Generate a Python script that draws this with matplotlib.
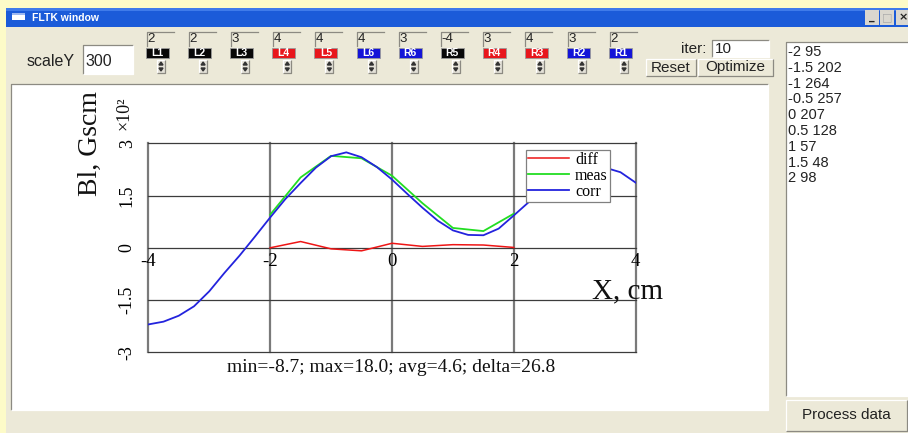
import matplotlib
matplotlib.use("Agg")
import matplotlib.pyplot as plt
from matplotlib.patches import Rectangle, Polygon

# ---------------- data ----------------
x_meas = [-2, -1.5, -1, -0.5, 0, 0.5, 1, 1.5, 2]
meas = [95, 202, 264, 257, 207, 128, 57, 48, 98]
diff = [0, 18, -3, -8.7, 13, 4, 9, 8, 1]
x_corr = [-4, -3.75, -3.5, -3.25, -3, -2.75, -2.5, -2.25, -2, -1.75, -1.5, -1.25,
          -1, -0.75, -0.5, -0.25, 0, 0.25, 0.5, 0.75, 1, 1.25, 1.5, 1.75, 2,
          2.25, 2.5, 2.75, 3, 3.25, 3.5, 3.75, 4]
corr = [-220, -212, -195, -168, -125, -72, -22, 32, 87, 140, 186, 230, 263, 274,
        260, 232, 196, 155, 115, 78, 50, 37, 36, 55, 93, 132, 170, 200, 220, 230,
        230, 217, 187]
y_scale = 100
x_ticks = [-4, -2, 0, 2, 4]
x_tick_labels = ["-4", "-2", "0", "2", "4"]
y_ticks = [-3, -1.5, 0, 1.5, 3]
y_tick_labels = ["-3", "-1.5", "0", "1.5", "3"]
series_names = ["diff", "meas", "corr"]
stats_text = "min=-8.7; max=18.0; avg=4.6; delta=26.8"
spin_names = ["L1", "L2", "L3", "L4", "L5", "L6", "R6", "R5", "R4", "R3", "R2", "R1"]
spin_values = [2, 2, 3, 4, 4, 4, 3, -4, 3, 4, 3, 2]
spin_kinds = ["k", "k", "k", "r", "r", "b", "b", "k", "r", "r", "b", "b"]
scale_y_value = "300"
iter_value = "10"

plt.rcParams["axes.unicode_minus"] = False
SERIF = "Liberation Serif"
SANS = "Liberation Sans"

fig = plt.figure(figsize=(9.08, 4.33), dpi=100)
bg = fig.add_axes([0, 0, 1, 1], zorder=0)
bg.set_xlim(0, 908)
bg.set_ylim(433, 0)
bg.axis("off")


def rect(x0, y0, x1, y1, fc, ec="none", lw=0, z=1):
    bg.add_patch(Rectangle((x0, y0), x1 - x0, y1 - y0, facecolor=fc,
                           edgecolor=ec, lw=lw, zorder=z))


def bevel(x0, y0, x1, y1, sunken, z=2):
    dark, light = "#8c8a82", "#ffffff"
    tl, br = (dark, light) if sunken else (light, dark)
    bg.plot([x0, x0, x1], [y1, y0, y0], color=tl, lw=0.9, zorder=z,
            solid_capstyle="butt")
    bg.plot([x0, x1, x1], [y1, y1, y0], color=br, lw=0.9, zorder=z,
            solid_capstyle="butt")


def gtext(x, y, s, size=11, ha="left", color="#222222", weight="normal"):
    bg.text(x, y, s, fontsize=size, ha=ha, va="center", color=color,
            family=SANS, fontweight=weight, zorder=5)


# window background
rect(0, 0, 908, 433, "#FDFBC8")
rect(6, 27, 908, 433, "#ECE9D8")
# title bar
rect(6, 8, 908, 27, "#1B5BD9")
rect(6, 8, 908, 11, "#3F7BEA")
rect(12, 13, 25, 20, "white", z=2)
rect(12, 13, 25, 14.5, "#9DB8F0", z=3)
bg.text(32, 18, "FLTK window", fontsize=7.5, color="white", fontweight="bold",
        family=SANS, va="center", ha="left", zorder=5)
for x0, x1, glyph in [(865, 879, "_"), (880, 894, "□"), (896, 910, "×")]:
    rect(x0, 10, x1, 25, "#DAD7CF", z=2)
    bg.text((x0 + x1) / 2, 17.5, glyph, fontsize=8, ha="center", va="center",
            color="#222222" if glyph != "□" else "#aaaaaa", family="DejaVu Sans",
            fontweight="bold", zorder=5)

# scaleY
gtext(27, 61, "scaleY", size=11.5)
rect(83, 45, 133, 74, "white", z=2)
bevel(83, 45, 133, 74, True)
gtext(85, 61, scale_y_value, size=11.5)

# spinner widgets
kind_color = {"k": "#080808", "r": "#E8161C", "b": "#1414D8"}
for i, (name, val, kind) in enumerate(zip(spin_names, spin_values, spin_kinds)):
    c = 157.5 + 42.1 * i
    bg.plot([c - 11, c - 11, c + 16], [46, 32, 32], color="#8c8a82", lw=0.9, zorder=2)
    gtext(c - 10.5, 39, str(val), size=9.5)
    rect(c - 11.5, 47.5, c + 11.5, 57.5, kind_color[kind], ec="#9a9a9a", lw=0.6, z=2)
    bg.text(c, 52.8, name, fontsize=7.5, color="white", fontweight="bold",
            family=SANS, ha="center", va="center", zorder=5)
    sx = c + 3.5
    rect(sx - 4, 60, sx + 4, 73, "#E4E1D8", z=2)
    bevel(sx - 4, 60, sx + 4, 73, False)
    bg.add_patch(Polygon([(sx - 2, 65), (sx + 2, 65), (sx, 62)], color="#333333", zorder=4))
    bg.add_patch(Polygon([(sx - 2, 68), (sx + 2, 68), (sx, 71)], color="#333333", zorder=4))

# iter / buttons
gtext(681, 49, "iter:", size=11)
rect(712, 40, 769, 57, "white", z=2)
bevel(712, 40, 769, 57, True)
gtext(715, 49, iter_value, size=11)
for x0, x1, label in [(646, 696, "Reset"), (698, 773, "Optimize")]:
    rect(x0, 59, x1, 76, "#ECE9D8", z=2)
    bevel(x0, 59, x1, 76, False)
    gtext((x0 + x1) / 2, 67.5, label, size=11, ha="center")

# list box
rect(786, 42, 910, 396, "white", z=2)
bevel(786, 42, 910, 396, True)
for k, (xv, mv) in enumerate(zip(x_meas, meas)):
    gtext(787.5, 52 + 15.8 * k, f"{xv:g} {mv}", size=10.5)

# process data button
rect(786, 400, 907, 431, "#ECE9D8", z=2)
bevel(786, 400, 907, 431, False)
gtext(846.5, 415, "Process data", size=11, ha="center")

# white plot panel
rect(11, 84, 768, 410, "white", z=2)
bevel(11, 84, 768, 410, True)

# ---------------- plot ----------------
L, R, T, B = 148.3, 635.7, 143.3, 352.3
ax = fig.add_axes([L / 908, (433 - B) / 433, (R - L) / 908, (B - T) / 433], zorder=2)
ax.set_xlim(-4, 4)
ax.set_ylim(-3, 3)
ax.set_facecolor("white")
for s in ax.spines.values():
    s.set_visible(False)
ax.spines["bottom"].set_position(("data", 0))

for xv in x_ticks:
    ax.axvline(xv, color="#7a7a7a", lw=1.6, clip_on=False, zorder=1)
for yv in y_ticks:
    ax.axhline(yv, color="#3c3c3c", lw=0.9, clip_on=False, zorder=1)

ax.plot(x_meas, [d / y_scale for d in diff], color="#EE1515", lw=1.1,
        label=series_names[0], zorder=3)
ax.plot(x_meas, [m / y_scale for m in meas], color="#22DD22", lw=1.3,
        label=series_names[1], zorder=3)
ax.plot(x_corr, [c / y_scale for c in corr], color="#2323DD", lw=1.3,
        label=series_names[2], zorder=3)

ax.set_xticks(x_ticks)
ax.set_xticklabels(x_tick_labels, family=SERIF, fontsize=13.5)
ax.set_yticks(y_ticks)
ax.set_yticklabels(y_tick_labels, family=SERIF, fontsize=13, rotation=90,
                   va="center")
ax.tick_params(axis="x", length=0, pad=4)
ax.tick_params(axis="y", length=0, pad=9)

leg = ax.legend(loc="upper left",
                bbox_to_anchor=((526 - L) / (R - L), (B - 150) / (B - T)),
                borderaxespad=0, fancybox=False, framealpha=1,
                edgecolor="#808080", prop={"family": SERIF, "size": 11.5},
                handlelength=2.6, handletextpad=0.35, labelspacing=0.0,
                borderpad=0.12)
leg.get_frame().set_linewidth(0.9)
leg.set_zorder(6)

# axis titles and notes (figure pixel coordinates)
bg2 = fig.add_axes([0, 0, 1, 1], zorder=3)
bg2.set_xlim(0, 908)
bg2.set_ylim(433, 0)
bg2.axis("off")
bg2.text(90, 144, "Bl, Gscm", rotation=90, fontsize=20, family=SERIF,
         ha="center", va="center", color="#111111")
bg2.text(124, 113, "×10²", rotation=90, fontsize=13, family=SERIF,
         ha="center", va="center", color="#111111")
bg2.text(592, 291, "X, cm", fontsize=21, family=SERIF, ha="left",
         va="center", color="#111111")
bg2.text(391, 368, stats_text, fontsize=14, family=SERIF, ha="center",
         va="center", color="#111111")

fig.savefig("out.png", dpi=100)
